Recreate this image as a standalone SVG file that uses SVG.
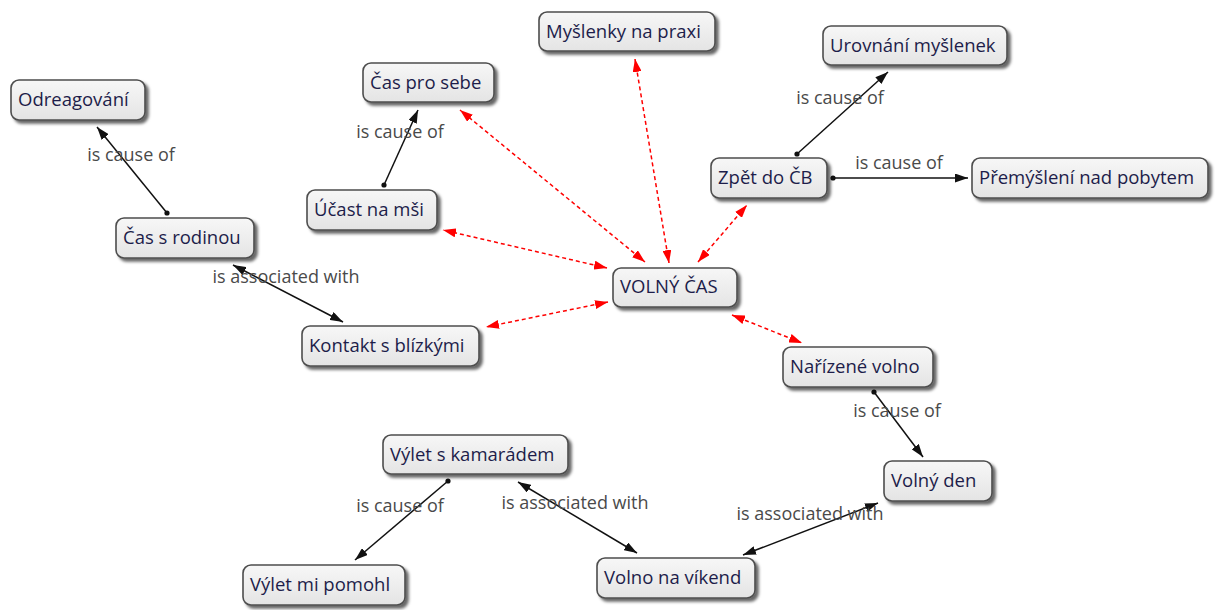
<svg xmlns="http://www.w3.org/2000/svg" width="1221" height="610" viewBox="0 0 1221 610">
  <defs>
    <linearGradient id="boxFill" x1="0" y1="0" x2="0" y2="1">
      <stop offset="0" stop-color="#f7f7f7"/>
      <stop offset="1" stop-color="#e4e4e4"/>
    </linearGradient>
    <filter id="shadow" x="-10%" y="-20%" width="130%" height="160%">
      <feDropShadow dx="3" dy="3" stdDeviation="1.6" flood-color="#000" flood-opacity="0.6"/>
    </filter>
    <marker id="arrowBlack" viewBox="0 0 13 9" refX="13" refY="4.5" markerWidth="13" markerHeight="9" markerUnits="userSpaceOnUse" orient="auto-start-reverse">
      <path d="M0,0 L13,4.5 L0,9 z" fill="#111"/>
    </marker>
    <marker id="arrowRed" viewBox="0 0 13 9" refX="13" refY="4.5" markerWidth="13" markerHeight="9" markerUnits="userSpaceOnUse" orient="auto-start-reverse">
      <path d="M0,0 L13,4.5 L0,9 z" fill="#ff0000"/>
    </marker>
    <marker id="dot" viewBox="0 0 6 6" refX="3" refY="3" markerWidth="6" markerHeight="6" markerUnits="userSpaceOnUse">
      <circle cx="3" cy="3" r="2.6" fill="#111"/>
    </marker>
  </defs>
  <style>
    .box { fill: url(#boxFill); stroke: #4d4d4d; stroke-width: 1.6; filter: url(#shadow); }
    .name { font-family: "Open Sans", "Noto Sans", sans-serif; font-size: 18.5px; fill: #1d1d4a; }
    .label { font-family: "Open Sans", "Noto Sans", sans-serif; font-size: 18px; fill: #4a4a4a; text-anchor: middle; }
    .link { stroke: #111; stroke-width: 1.5; fill: none; }
    .cause { marker-start: url(#dot); marker-end: url(#arrowBlack); }
    .assoc { marker-start: url(#arrowBlack); marker-end: url(#arrowBlack); }
    .free { stroke: #ff0000; stroke-width: 1.5; stroke-dasharray: 4 3; fill: none; marker-start: url(#arrowRed); marker-end: url(#arrowRed); }
  </style>
  <rect width="1221" height="610" fill="#ffffff"/>

  <!-- connectors -->
  <g id="connectors">
    <line class="free" x1="669" y1="263" x2="635" y2="59"/>
    <line class="free" x1="645" y1="262" x2="460" y2="110"/>
    <line class="free" x1="607" y1="268" x2="443" y2="230"/>
    <line class="free" x1="608" y1="302" x2="486" y2="327"/>
    <line class="free" x1="698" y1="262" x2="747" y2="205"/>
    <line class="free" x1="732" y1="315" x2="802" y2="343"/>

    <line class="link cause" x1="167" y1="213" x2="97" y2="127"/>
    <line class="link assoc" x1="233" y1="265" x2="343" y2="322"/>
    <line class="link cause" x1="384" y1="185" x2="418" y2="110"/>
    <line class="link cause" x1="797" y1="154" x2="888" y2="72"/>
    <line class="link cause" x1="833" y1="178" x2="968" y2="178"/>
    <line class="link cause" x1="874" y1="392" x2="923" y2="457"/>
    <line class="link assoc" x1="878" y1="503" x2="743" y2="555"/>
    <line class="link assoc" x1="518" y1="482" x2="637" y2="553"/>
    <line class="link cause" x1="448" y1="481" x2="355" y2="560"/>

    <text class="label" x="131" y="161">is cause of</text>
    <text class="label" x="286" y="283">is associated with</text>
    <text class="label" x="400" y="138">is cause of</text>
    <text class="label" x="840" y="104">is cause of</text>
    <text class="label" x="899" y="169">is cause of</text>
    <text class="label" x="897" y="417">is cause of</text>
    <text class="label" x="810" y="520">is associated with</text>
    <text class="label" x="575" y="509">is associated with</text>
    <text class="label" x="400" y="512">is cause of</text>
  </g>

  <!-- concept nodes -->
  <g id="odreagovani"><rect class="box" x="11" y="80" width="134" height="40" rx="8"/><text class="name" x="18" y="106">Odreagování</text></g>
  <g id="cas-s-rodinou"><rect class="box" x="116" y="218" width="138" height="40" rx="8"/><text class="name" x="123" y="244">Čas s rodinou</text></g>
  <g id="cas-pro-sebe"><rect class="box" x="363" y="63" width="131" height="39" rx="8"/><text class="name" x="370" y="89">Čas pro sebe</text></g>
  <g id="ucast-na-msi"><rect class="box" x="307" y="190" width="130" height="40" rx="8"/><text class="name" x="314" y="216">Účast na mši</text></g>
  <g id="myslenky-na-praxi"><rect class="box" x="539" y="12" width="176" height="39" rx="8"/><text class="name" x="546" y="38">Myšlenky na praxi</text></g>
  <g id="urovnani-myslenek"><rect class="box" x="823" y="26" width="184" height="39" rx="8"/><text class="name" x="830" y="52">Urovnání myšlenek</text></g>
  <g id="zpet-do-cb"><rect class="box" x="711" y="158" width="116" height="40" rx="8"/><text class="name" x="718" y="184">Zpět do ČB</text></g>
  <g id="premysleni-nad-pobytem"><rect class="box" x="972" y="158" width="236" height="40" rx="8"/><text class="name" x="979" y="184">Přemýšlení nad pobytem</text></g>
  <g id="volny-cas"><rect class="box" x="613" y="268" width="124" height="39" rx="8"/><text class="name" x="620" y="293">VOLNÝ ČAS</text></g>
  <g id="kontakt-s-blizkymi"><rect class="box" x="302" y="326" width="177" height="40" rx="8"/><text class="name" x="309" y="352">Kontakt s blízkými</text></g>
  <g id="narizene-volno"><rect class="box" x="783" y="347" width="150" height="40" rx="8"/><text class="name" x="790" y="373">Nařízené volno</text></g>
  <g id="volny-den"><rect class="box" x="884" y="461" width="108" height="40" rx="8"/><text class="name" x="891" y="487">Volný den</text></g>
  <g id="vylet-s-kamaradem"><rect class="box" x="383" y="435" width="185" height="39" rx="8"/><text class="name" x="390" y="461">Výlet s kamarádem</text></g>
  <g id="vylet-mi-pomohl"><rect class="box" x="243" y="565" width="162" height="40" rx="8"/><text class="name" x="250" y="591">Výlet mi pomohl</text></g>
  <g id="volno-na-vikend"><rect class="box" x="597" y="558" width="158" height="40" rx="8"/><text class="name" x="604" y="584">Volno na víkend</text></g>
</svg>
